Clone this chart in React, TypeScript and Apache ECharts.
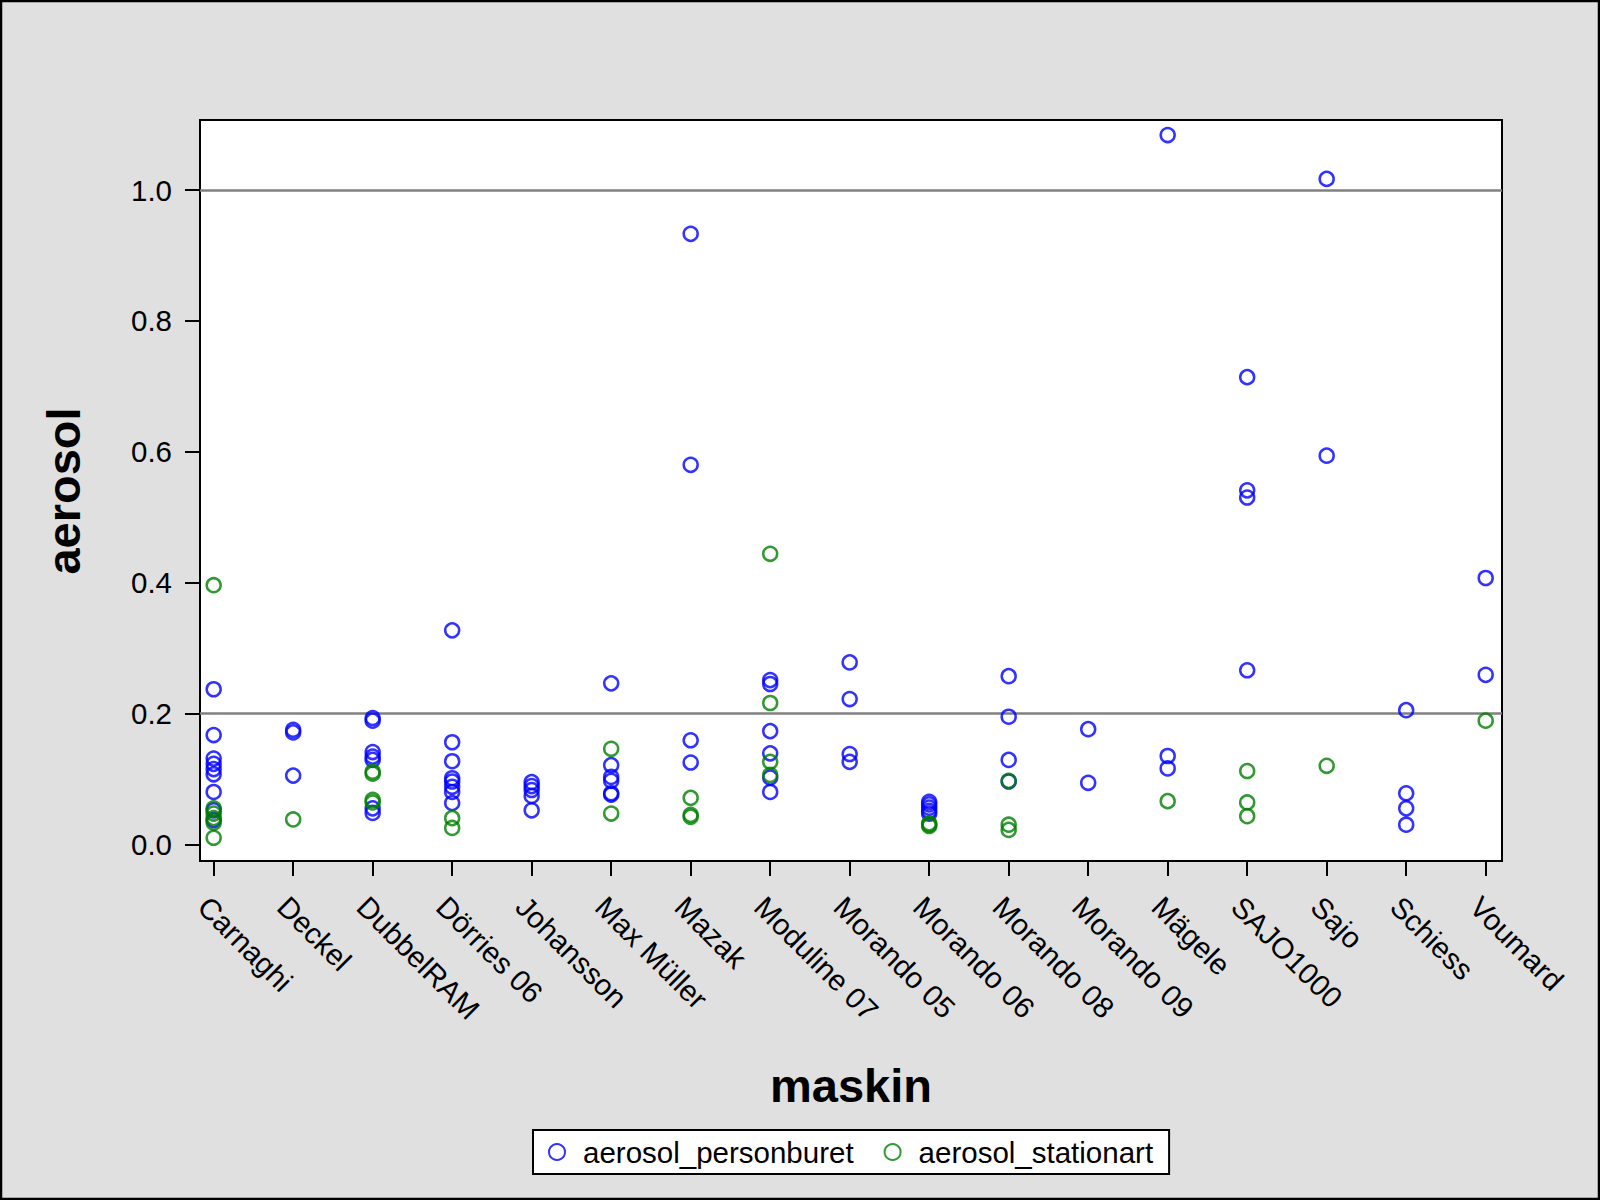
import React, { useEffect, useRef } from "react";
import * as echarts from "echarts";

const categories = [
  "Carnaghi", "Deckel", "DubbelRAM", "Dörries 06", "Johansson", "Max Müller", "Mazak",
  "Moduline 07", "Morando 05", "Morando 06", "Morando 08", "Morando 09", "Mägele",
  "SAJO1000", "Sajo", "Schiess", "Voumard",
];

const personburet: number[][] = [
  [0.237, 0.167, 0.131, 0.123, 0.115, 0.107, 0.080, 0.052, 0.037],
  [0.175, 0.171, 0.105],
  [0.193, 0.189, 0.141, 0.134, 0.129, 0.055, 0.048],
  [0.327, 0.156, 0.127, 0.101, 0.096, 0.088, 0.080, 0.063],
  [0.095, 0.089, 0.083, 0.074, 0.052],
  [0.246, 0.121, 0.103, 0.097, 0.078, 0.076],
  [0.933, 0.580, 0.159, 0.125],
  [0.251, 0.245, 0.173, 0.139, 0.102, 0.080],
  [0.278, 0.222, 0.138, 0.126],
  [0.065, 0.061, 0.056, 0.051, 0.047],
  [0.257, 0.195, 0.129, 0.096],
  [0.176, 0.094],
  [1.084, 0.135, 0.116],
  [0.714, 0.541, 0.530, 0.266],
  [1.017, 0.594],
  [0.205, 0.078, 0.055, 0.030],
  [0.407, 0.259],
];

const stationart: number[][] = [
  [0.396, 0.055, 0.047, 0.040, 0.033, 0.010],
  [0.038],
  [0.111, 0.108, 0.068, 0.064],
  [0.040, 0.025],
  [],
  [0.146, 0.047],
  [0.071, 0.045, 0.042],
  [0.444, 0.216, 0.126, 0.106],
  [],
  [0.032, 0.030, 0.028],
  [0.097, 0.030, 0.022],
  [],
  [0.066],
  [0.112, 0.064, 0.043],
  [0.120],
  [],
  [0.189],
];

const yTicks = [0, 0.2, 0.4, 0.6, 0.8, 1.0];
const refLines = [0.2, 1.0];
const seriesNames = ["aerosol_personburet", "aerosol_stationart"];

export default function App() {
  const ref = useRef<HTMLDivElement>(null);
  useEffect(() => {
    document.body.style.margin = "0";
    const chart = echarts.init(ref.current!, null, { renderer: "svg" });
    const toPts = (arr: number[][]) => arr.flatMap((vals, i) => vals.map((v) => [i, v]));
    const font = "'Liberation Sans', Arial, sans-serif";
    const xIdx = categories.map((_, i) => i);
    chart.setOption({
      animation: false,
      backgroundColor: "#e0e0e0",
      textStyle: { fontFamily: font },
      grid: {
        left: 200, right: 98, top: 120, bottom: 339,
        show: true, backgroundColor: "#ffffff", borderColor: "#000", borderWidth: 2,
      },
      xAxis: {
        type: "value",
        min: -0.172,
        max: 16.205,
        axisLine: { show: true, onZero: false, lineStyle: { color: "#000", width: 2 } },
        axisTick: { show: true, length: 15, customValues: xIdx, lineStyle: { color: "#000", width: 2 } },
        axisLabel: {
          customValues: xIdx,
          formatter: (v: number) => categories[Math.round(v)] ?? "",
          rotate: -45,
          fontSize: 29.5,
          color: "#000",
          margin: 30,
          align: "left",
          verticalAlign: "top",
          fontFamily: font,
        },
        splitLine: { show: false },
      },
      yAxis: {
        type: "value",
        min: -0.0255,
        max: 1.107,
        axisLine: { show: true, onZero: false, lineStyle: { color: "#000", width: 2 } },
        axisTick: { show: true, length: 15, customValues: yTicks, lineStyle: { color: "#000", width: 2 } },
        axisLabel: {
          customValues: yTicks,
          formatter: (v: number) => v.toFixed(1),
          fontSize: 29.5,
          color: "#000",
          margin: 28,
          fontFamily: font,
        },
        splitLine: { show: false },
      },
      legend: {
        left: 533,
        top: 1130,
        orient: "horizontal",
        data: seriesNames,
        backgroundColor: "#ffffff",
        borderColor: "#000",
        borderWidth: 2,
        borderRadius: 0,
        padding: [7, 16, 7, 15],
        itemGap: 30,
        itemWidth: 16,
        itemHeight: 16,
        textStyle: { fontSize: 29.5, color: "#000", fontFamily: font, padding: [0, 0, 0, 13] },
      },
      graphic: [
        {
          type: "text",
          x: 63,
          y: 491,
          rotation: Math.PI / 2,
          style: {
            text: "aerosol", fontSize: 47, fontWeight: "bold", fontFamily: font,
            fill: "#000", textAlign: "center", textVerticalAlign: "middle",
          },
        },
        {
          type: "text",
          x: 851,
          y: 1085,
          style: {
            text: "maskin", fontSize: 47, fontWeight: "bold", fontFamily: font,
            fill: "#000", textAlign: "center", textVerticalAlign: "middle",
          },
        },
        {
          type: "rect",
          shape: { x: 1, y: 1, width: 1598, height: 1198 },
          style: { fill: "none", stroke: "#000", lineWidth: 2.5 },
          z: 100,
        },
      ],
      series: [
        {
          name: seriesNames[0],
          type: "scatter",
          symbol: "circle",
          symbolSize: 14,
          itemStyle: { color: "rgba(0,0,0,0)", borderColor: "#0000ff", borderWidth: 2.5 },
          data: toPts(personburet),
          z: 3,
          markLine: {
            silent: true,
            symbol: ["none", "none"],
            label: { show: false },
            lineStyle: { color: "#808080", width: 2.5, type: "solid" },
            data: refLines.map((v) => ({ yAxis: v })),
            z: 1,
          },
        },
        {
          name: seriesNames[1],
          type: "scatter",
          symbol: "circle",
          symbolSize: 14,
          itemStyle: { color: "rgba(0,0,0,0)", borderColor: "#008000", borderWidth: 2.5 },
          data: toPts(stationart),
          z: 3,
        },
      ],
    });
    return () => chart.dispose();
  }, []);
  return <div ref={ref} style={{ width: 1600, height: 1200 }} />;
}
